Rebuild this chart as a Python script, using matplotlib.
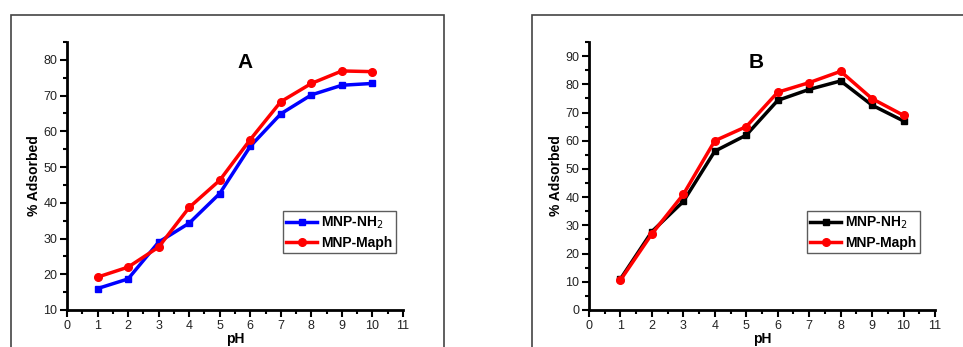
import matplotlib.pyplot as plt
from matplotlib.patches import Rectangle
from matplotlib.ticker import MultipleLocator

plt.rcParams['font.family'] = ['Liberation Sans', 'DejaVu Sans']

ph = [1, 2, 3, 4, 5, 6, 7, 8, 9, 10]

# panel A
a_nh2 = [16.0, 18.7, 29.0, 34.3, 42.6, 55.8, 64.9, 70.2, 72.9, 73.4]
a_maph = [19.2, 22.0, 27.6, 38.7, 46.3, 57.7, 68.3, 73.4, 76.9, 76.7]

# panel B
b_nh2 = [11.0, 27.8, 38.5, 56.3, 62.0, 74.3, 78.2, 81.2, 72.6, 67.0]
b_maph = [10.6, 27.0, 41.0, 60.0, 65.0, 77.2, 80.6, 84.6, 74.9, 69.0]

W, H = 963, 347
fig = plt.figure(figsize=(W / 100, H / 100), dpi=100)

# outer frames around each panel
for x0, x1 in [(11, 444), (532, 975)]:
    fig.patches.append(Rectangle((x0 / W, -0.1), (x1 - x0) / W, 1.1 - 15 / H,
                                 transform=fig.transFigure, fill=False,
                                 edgecolor='#444444', linewidth=1.2))


def panel(left, right, ylim, yticks, nh2, maph, nh2_color, letter, letter_x, leg_box):
    ax = fig.add_axes([left / W, 1 - 310 / H, (right - left) / W, (310 - 42) / H])
    ax.plot(ph, nh2, color=nh2_color, lw=2.5, marker='s', ms=5, label='MNP-NH$_2$')
    ax.plot(ph, maph, color='#ff0000', lw=2.5, marker='o', ms=5.5, label='MNP-Maph')
    ax.set_xlim(0, 11)
    ax.set_ylim(*ylim)
    ax.set_xticks(range(0, 12))
    ax.set_yticks(yticks)
    ax.xaxis.set_minor_locator(MultipleLocator(0.5))
    ax.yaxis.set_minor_locator(MultipleLocator(5))
    for s in ['top', 'right']:
        ax.spines[s].set_visible(False)
    for s in ['left', 'bottom']:
        ax.spines[s].set_linewidth(2)
    ax.tick_params(which='major', length=5, width=1.5, labelsize=9, colors='black',
                   labelcolor='#222222', pad=2)
    ax.tick_params(which='minor', length=3, width=1.5)
    ax.set_xlabel('pH', fontsize=10, fontweight='bold', labelpad=0)
    ax.set_ylabel('% Adsorbed', fontsize=10, fontweight='bold', labelpad=2)
    fig.text(letter_x / W, 1 - 62 / H, letter, fontsize=15, fontweight='bold',
             ha='center', va='center')
    leg = ax.legend(loc='lower left', bbox_to_anchor=leg_box, bbox_transform=fig.transFigure,
                    frameon=True, fancybox=False, edgecolor='#333333',
                    prop={'weight': 'bold', 'size': 10}, handlelength=2.2,
                    handletextpad=0.3, borderpad=0.25, labelspacing=0.3, borderaxespad=0)
    leg.get_frame().set_linewidth(1)
    return ax


panel(67, 403, (10, 85), range(10, 81, 10), a_nh2, a_maph, '#0000ff', 'A', 245,
      (283 / W, 1 - 253 / H))
panel(589, 935, (0, 95), range(0, 91, 10), b_nh2, b_maph, 'black', 'B', 756,
      (807 / W, 1 - 253 / H))

fig.savefig('out.png', dpi=100)
